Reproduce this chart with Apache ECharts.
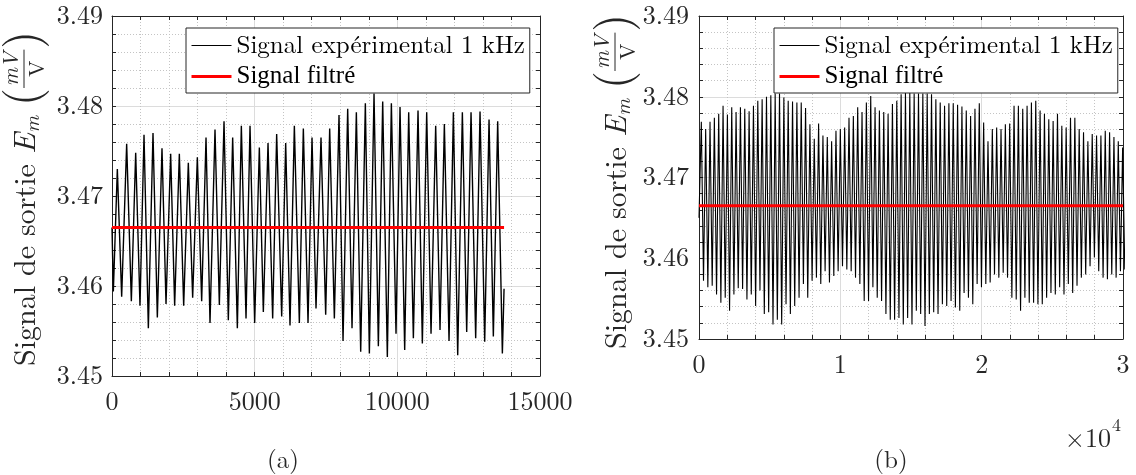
<!DOCTYPE html>
<html><head><meta charset="utf-8">
<script src="https://cdn.jsdelivr.net/npm/echarts@6/dist/echarts.min.js"></script>
<style>html,body{margin:0;padding:0;background:#fff}#c{width:1136px;height:475px}</style>
</head><body><div id="c"></div><script>
// ---------------- data ----------------
const NAME_EXP = 'Signal expérimental 1 kHz';
const NAME_FILT = 'Signal filtré';
const captions = ['(a)', '(b)'];
const yTitleText = 'Signal de sortie';

// (a) experimental signal: successive extrema (sample index, value)
const leftX = [0, 47, 187, 339, 514, 678, 830, 981, 1122, 1274,
  1437, 1589, 1752, 1893, 2056, 2196, 2360, 2512, 2675, 2827,
  2991, 3143, 3295, 3435, 3610, 3762, 3926, 4077, 4229, 4393,
  4533, 4697, 4837, 5000, 5164, 5304, 5468, 5631, 5771, 5947,
  6087, 6239, 6391, 6566, 6706, 6870, 7010, 7150, 7325, 7489,
  7629, 7793, 7956, 8097, 8260, 8412, 8564, 8716, 8879, 9020,
  9183, 9335, 9487, 9650, 9791, 9954, 10094, 10258, 10398, 10562,
  10725, 10877, 11029, 11181, 11344, 11496, 11648, 11812, 11964, 12116,
  12279, 12431, 12583, 12746, 12898, 13062, 13214, 13365, 13517, 13681,
  13740];
const leftY = [3.4665, 3.4594, 3.4730, 3.4588, 3.4758, 3.4583, 3.4748, 3.4578, 3.4768, 3.4553,
  3.4770, 3.4565, 3.4753, 3.4580, 3.4747, 3.4578, 3.4747, 3.4578, 3.4737, 3.4587,
  3.4743, 3.4583, 3.4765, 3.4559, 3.4774, 3.4579, 3.4783, 3.4562, 3.4765, 3.4553,
  3.4778, 3.4564, 3.4778, 3.4559, 3.4754, 3.4571, 3.4759, 3.4564, 3.4769, 3.4566,
  3.4759, 3.4556, 3.4778, 3.4559, 3.4775, 3.4559, 3.4765, 3.4575, 3.4765, 3.4568,
  3.4775, 3.4564, 3.4790, 3.4539, 3.4797, 3.4553, 3.4793, 3.4527, 3.4803, 3.4525,
  3.4814, 3.4533, 3.4805, 3.4521, 3.4803, 3.4547, 3.4799, 3.4529, 3.4793, 3.4542,
  3.4795, 3.4536, 3.4793, 3.4547, 3.4778, 3.4551, 3.4780, 3.4539, 3.4793, 3.4523,
  3.4793, 3.4549, 3.4793, 3.4542, 3.4794, 3.4538, 3.4785, 3.4544, 3.4783, 3.4525,
  3.4597];
const leftFiltX = [0, 13740];
const leftFiltY = [3.4665, 3.4665];

// (b) experimental signal: start point, then peaks and troughs of each cycle
const rightStart = [0, 3.4650];
const rightPeakX = [165, 472, 780, 1087, 1394, 1702, 2009, 2316, 2623, 2931,
  3238, 3545, 3853, 4160, 4467, 4775, 5082, 5389, 5696, 6004,
  6311, 6618, 6926, 7233, 7540, 7848, 8155, 8462, 8769, 9077,
  9384, 9691, 9999, 10306, 10613, 10921, 11228, 11535, 11842, 12150,
  12457, 12764, 13072, 13379, 13686, 13994, 14301, 14608, 14915, 15223,
  15530, 15837, 16145, 16452, 16759, 17067, 17374, 17681, 17988, 18296,
  18603, 18910, 19218, 19525, 19832, 20140, 20447, 20754, 21061, 21369,
  21676, 21983, 22291, 22598, 22905, 23213, 23520, 23827, 24134, 24442,
  24749, 25056, 25364, 25671, 25978, 26286, 26593, 26900, 27207, 27515,
  27822, 28129, 28437, 28744, 29051, 29359, 29666, 29973];
const rightPeakY = [3.4769, 3.4760, 3.4769, 3.4774, 3.4779, 3.4789, 3.4778, 3.4787, 3.4781, 3.4787,
  3.4785, 3.4782, 3.4789, 3.4795, 3.4797, 3.4800, 3.4802, 3.4804, 3.4804, 3.4799,
  3.4795, 3.4794, 3.4793, 3.4793, 3.4786, 3.4766, 3.4748, 3.4767, 3.4752, 3.4750,
  3.4745, 3.4758, 3.4760, 3.4762, 3.4774, 3.4776, 3.4787, 3.4781, 3.4793, 3.4801,
  3.4787, 3.4783, 3.4781, 3.4779, 3.4791, 3.4795, 3.4803, 3.4805, 3.4805,
  3.4804, 3.4804, 3.4804, 3.4804, 3.4803, 3.4797, 3.4793, 3.4789, 3.4792, 3.4792,
  3.4790, 3.4788, 3.4783, 3.4776, 3.4785, 3.4792, 3.4768, 3.4745, 3.4760, 3.4762,
  3.4760, 3.4766, 3.4767, 3.4789, 3.4789, 3.4785, 3.4789, 3.4793, 3.4795, 3.4783,
  3.4779, 3.4772, 3.4770, 3.4779, 3.4764, 3.4762, 3.4774, 3.4774, 3.4760, 3.4756,
  3.4745, 3.4754, 3.4752, 3.4752, 3.4758, 3.4756, 3.4750, 3.4745, 3.4737];
const rightTroughX = [319, 626, 934, 1241, 1548, 1856, 2163, 2470, 2777, 3085,
  3392, 3699, 4007, 4314, 4621, 4929, 5236, 5543, 5850, 6158,
  6465, 6772, 7080, 7387, 7694, 8002, 8309, 8616, 8923, 9231,
  9538, 9845, 10153, 10460, 10767, 11075, 11382, 11689, 11996, 12304,
  12611, 12918, 13226, 13533, 13840, 14148, 14455, 14762, 15069, 15377,
  15684, 15991, 16299, 16606, 16913, 17221, 17528, 17835, 18142, 18450,
  18757, 19064, 19372, 19679, 19986, 20294, 20601, 20908, 21215, 21523,
  21830, 22137, 22445, 22752, 23059, 23367, 23674, 23981, 24288, 24596,
  24903, 25210, 25518, 25825, 26132, 26440, 26747, 27054, 27361, 27669,
  27976, 28283, 28591, 28898, 29205, 29513, 29820, 30127];
const rightTroughY = [3.4572, 3.4564, 3.4566, 3.4555, 3.4545, 3.4551, 3.4535, 3.4555, 3.4563, 3.4562,
  3.4549, 3.4555, 3.4541, 3.4560, 3.4531, 3.4533, 3.4518, 3.4524, 3.4518, 3.4543,
  3.4531, 3.4541, 3.4551, 3.4568, 3.4551, 3.4572, 3.4576, 3.4568, 3.4584, 3.4570,
  3.4578, 3.4584, 3.4590, 3.4586, 3.4584, 3.4576, 3.4568, 3.4547, 3.4547, 3.4564,
  3.4551, 3.4547, 3.4531, 3.4524, 3.4524, 3.4526, 3.4518, 3.4526, 3.4518,
  3.4535, 3.4531, 3.4516, 3.4531, 3.4533, 3.4531, 3.4543, 3.4541, 3.4547, 3.4539,
  3.4535, 3.4557, 3.4551, 3.4543, 3.4568, 3.4564, 3.4568, 3.4570, 3.4580, 3.4576,
  3.4582, 3.4576, 3.4551, 3.4549, 3.4535, 3.4551, 3.4545, 3.4545, 3.4543, 3.4543,
  3.4551, 3.4557, 3.4555, 3.4564, 3.4555, 3.4568, 3.4557, 3.4566, 3.4576, 3.4580,
  3.4590, 3.4601, 3.4584, 3.4576, 3.4574, 3.4580, 3.4576, 3.4584, 3.4586];
const rightFiltX = [0, 30000];
const rightFiltY = [3.4665, 3.4665];

// axes ranges
const yMin = 3.45, yMax = 3.49, yStep = 0.01;
const xLeftMax = 15000, xLeftStep = 5000;
const xRightMax = 30000, xRightStep = 10000;
const xRightExponent = 4;

// ---------------- build ----------------
const zip = (xs, ys) => xs.map((x, i) => [x, ys[i]]);
const leftData = zip(leftX, leftY);
const rightData = [rightStart];
rightPeakX.forEach((x, i) => {
  rightData.push([x, rightPeakY[i]]);
  if (i < rightTroughX.length) rightData.push([rightTroughX[i], rightTroughY[i]]);
});

const LM = '"Latin Modern Roman"';
const LIB = '"Liberation Serif"';
const TXT = '#262626';
const AX = '#262626';

const grids = [
  { left: 112, top: 16, width: 428, height: 360 },
  { left: 699, top: 16, width: 424, height: 323 }
];

function xAxisPair(gi, max, step, fmt) {
  const common = {
    type: 'value', gridIndex: gi, min: 0, max: max, interval: step,
    axisLine: { show: true, onZero: false, lineStyle: { color: AX, width: 1 } },
    axisTick: { show: true, inside: true, length: 4, lineStyle: { color: AX } },
    minorTick: { show: true, splitNumber: 5, length: 4, lineStyle: { color: AX } }
  };
  return [
    Object.assign({}, common, {
      position: 'bottom',
      axisLabel: { show: true, fontFamily: LM, fontSize: 26, color: TXT, margin: 13, formatter: fmt },
      splitLine: { show: true, lineStyle: { color: '#dcdcdc', width: 1 } },
      minorSplitLine: { show: true, lineStyle: { color: '#c4c4c4', width: 1, type: [1, 2] } }
    }),
    Object.assign({}, common, {
      position: 'top', axisLabel: { show: false },
      splitLine: { show: false }, minorSplitLine: { show: false }
    })
  ];
}
function yAxisPair(gi, margin) {
  const common = {
    type: 'value', gridIndex: gi, min: yMin, max: yMax, interval: yStep,
    axisLine: { show: true, onZero: false, lineStyle: { color: AX, width: 1 } },
    axisTick: { show: true, inside: true, length: 4, lineStyle: { color: AX } },
    minorTick: { show: true, splitNumber: 5, length: 4, lineStyle: { color: AX } }
  };
  return [
    Object.assign({}, common, {
      position: 'left',
      axisLabel: { show: true, fontFamily: LM, fontSize: 26, color: TXT, margin: margin,
        formatter: v => v.toFixed(2) },
      splitLine: { show: true, lineStyle: { color: '#dcdcdc', width: 1 } },
      minorSplitLine: { show: true, lineStyle: { color: '#c4c4c4', width: 1, type: [1, 2] } }
    }),
    Object.assign({}, common, {
      position: 'right', axisLabel: { show: false },
      splitLine: { show: false }, minorSplitLine: { show: false }
    })
  ];
}

const xAxes = [].concat(
  xAxisPair(0, xLeftMax, xLeftStep, v => String(v)),
  xAxisPair(1, xRightMax, xRightStep, v => String(v / Math.pow(10, xRightExponent)))
);
const yAxes = [].concat(yAxisPair(0, 9), yAxisPair(1, 10));

function legendAt(left) {
  return {
    left: left, top: 28, orient: 'vertical',
    data: [
      { name: NAME_EXP, textStyle: { fontFamily: LM, fontSize: 25, color: '#000' },
        lineStyle: { width: 1, color: '#000' } },
      { name: NAME_FILT, textStyle: { fontFamily: LIB, fontSize: 25, color: '#000' },
        lineStyle: { width: 3, color: '#ff0000' } }
    ],
    itemWidth: 40, itemHeight: 14, itemGap: 6, padding: [5, 5, 4, 4],
    borderColor: '#262626', borderWidth: 1, backgroundColor: '#ffffff',
    selectedMode: false,
    itemStyle: { opacity: 0, borderWidth: 0 },
    textStyle: { fontFamily: LM, fontSize: 25, color: '#000' }
  };
}

// y-axis title as rotated group
const cvs = document.createElement('canvas').getContext('2d');
function tw(t, font) { cvs.font = font; return cvs.measureText(t).width; }
function yTitle(cx, startY) {
  const kids = [];
  let x = 0;
  function add(text, size, italic, dy) {
    const font = (italic ? 'italic ' : '') + size + 'px ' + LM;
    kids.push({ type: 'text', x: x, y: dy,
      style: { text: text, font: font, fill: TXT, align: 'left', verticalAlign: 'middle',
               textAlign: 'left', textVerticalAlign: 'middle' } });
    x += tw(text, font);
  }
  add(yTitleText + ' ', 30, false, 0);
  add('E', 31, true, 0);
  add('m', 21, true, 7);
  x += 10;
  add('(', 46, false, -3);
  const f1 = 'italic 22px ' + LM;
  const wNum = tw('mV', f1), wDen = tw('V', '22px ' + LM);
  const wf = Math.max(wNum, wDen) + 4;
  kids.push({ type: 'text', x: x + wf / 2, y: -15, style: { text: 'mV', font: f1, fill: TXT, align: 'center', verticalAlign: 'middle', textAlign: 'center', textVerticalAlign: 'middle' } });
  kids.push({ type: 'line', shape: { x1: x, y1: -2, x2: x + wf, y2: -2 }, style: { stroke: TXT, lineWidth: 1 } });
  kids.push({ type: 'text', x: x + wf / 2, y: 11, style: { text: 'V', font: '22px ' + LM, fill: TXT, align: 'center', verticalAlign: 'middle', textAlign: 'center', textVerticalAlign: 'middle' } });
  x += wf + 1;
  add(')', 46, false, -3);
  return { type: 'group', x: cx, y: startY, rotation: Math.PI / 2, children: kids };
}

function label(text, x, y, size, align) {
  return { type: 'text', x: x, y: y,
    style: { text: text, font: size + 'px ' + LM, fill: TXT, align: align || 'center', verticalAlign: 'middle',
             textAlign: align || 'center', textVerticalAlign: 'middle' } };
}

const option = {
  animation: false,
  backgroundColor: '#ffffff',
  grid: grids,
  xAxis: xAxes,
  yAxis: yAxes,
  legend: [legendAt(186), legendAt(774)],
  series: [
    { name: NAME_EXP, type: 'line', xAxisIndex: 0, yAxisIndex: 0, data: leftData,
      symbol: 'none', lineStyle: { color: '#000', width: 1.4 }, itemStyle: { color: '#000' } },
    { name: NAME_FILT, type: 'line', xAxisIndex: 0, yAxisIndex: 0, data: zip(leftFiltX, leftFiltY),
      symbol: 'none', lineStyle: { color: '#ff0000', width: 3 }, itemStyle: { color: '#ff0000' } },
    { name: NAME_EXP, type: 'line', xAxisIndex: 2, yAxisIndex: 2, data: rightData,
      symbol: 'none', lineStyle: { color: '#000', width: 1.1 }, itemStyle: { color: '#000' } },
    { name: NAME_FILT, type: 'line', xAxisIndex: 2, yAxisIndex: 2, data: zip(rightFiltX, rightFiltY),
      symbol: 'none', lineStyle: { color: '#ff0000', width: 3 }, itemStyle: { color: '#ff0000' } }
  ],
  graphic: [
    yTitle(26, 366),
    yTitle(617, 349),
    label(captions[0], 283, 460, 25),
    label(captions[1], 891, 460, 25),
    label('\u00d710', 1111, 439, 26, 'right'),
    label(String(xRightExponent), 1112, 425, 18, 'left')
  ]
};
const chart = echarts.init(document.getElementById('c'), null, { renderer: 'canvas' });
chart.setOption(option);
</script></body></html>
